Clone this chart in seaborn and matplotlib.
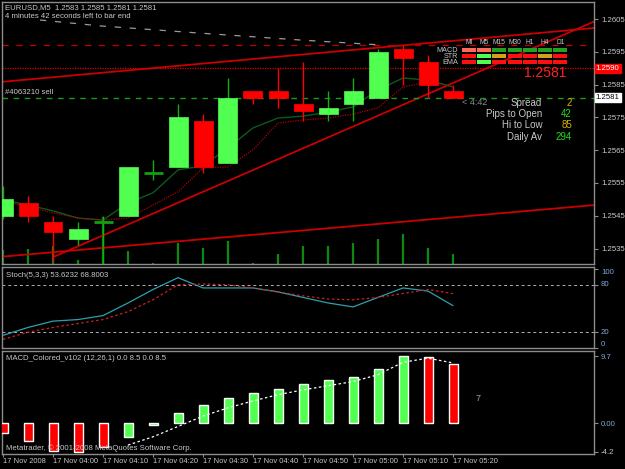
import numpy as np
import pandas as pd
import matplotlib
matplotlib.use("Agg")
import matplotlib.pyplot as plt
import seaborn as sns
from matplotlib.patches import Rectangle

# ---------------- data ----------------
times = ["03:50", "03:55", "04:00", "04:05", "04:10", "04:15", "04:20", "04:25", "04:30", "04:35",
         "04:40", "04:45", "04:50", "04:55", "05:00", "05:05", "05:10", "05:15", "05:20"]
opens  = [1.2545, 1.2549, 1.2543, 1.2538, 1.2543, 1.2545, 1.2558, 1.2560, 1.2574, 1.2561,
          1.2583, 1.2583, 1.2579, 1.2576, 1.2579, 1.2581, 1.2596, 1.2592, 1.2583]
highs  = [1.2554, 1.2551, 1.2545, 1.2543, 1.2545, 1.2560, 1.2562, 1.2579, 1.2576, 1.2587,
          1.2583, 1.2590, 1.2592, 1.2583, 1.2587, 1.2596, 1.2597, 1.2594, 1.2585]
lows   = [1.2544, 1.2543, 1.2531, 1.2536, 1.2530, 1.2545, 1.2556, 1.2560, 1.2558, 1.2561,
          1.2579, 1.2578, 1.2574, 1.2574, 1.2574, 1.2581, 1.2585, 1.2581, 1.2581]
closes = [1.2550, 1.2545, 1.2540, 1.2541, 1.2543, 1.2560, 1.2558, 1.2575, 1.2560, 1.2581,
          1.2581, 1.2581, 1.2577, 1.2578, 1.2583, 1.2595, 1.2593, 1.2585, 1.2581]
volumes = [14, 15, 18, 4, 47, 13, 1, 21, 16, 23, 1, 10, 18, 18, 21, 25, 30, 16, 10]
ma_fast = [1.25498, 1.25483, 1.25465, 1.25443, 1.25437, 1.25489, 1.25520, 1.25590, 1.25602, 1.25657,
           1.25718, 1.25748, 1.25754, 1.25766, 1.25782, 1.25834, 1.25870, 1.25864, 1.25843]
ma_slow = [1.25495, 1.25477, 1.25459, 1.25443, 1.25437, 1.25443, 1.25483, 1.25523, 1.25596, 1.25599,
           1.25651, 1.25733, 1.25742, 1.25748, 1.25760, 1.25779, 1.25843, 1.25858, 1.25843]
stoch_k = [16, 26, 34, 36, 41, 57, 74, 89, 76, 76, 76, 71, 64, 57, 52, 64, 76, 72, 53.6]
stoch_d = [11, 20, 26, 31, 36, 46, 61, 80, 81, 80, 76, 71, 66, 62, 61, 64, 69, 74, 68.8]
macd_hist = [-1.5, -2.6, -4.0, -4.2, -3.5, -2.0, -0.3, 1.5, 2.6, 3.6, 4.4, 5.0, 5.6, 6.2, 6.6, 7.8, 9.7, 9.5, 8.5]
macd_up = [False, False, False, False, False, True, True, True, True, True,
           True, True, True, True, True, True, True, False, False]
macd_signal = [np.nan, np.nan, np.nan, np.nan, np.nan, -3.2, -2.0, -0.5, 1.0, 2.2,
               3.2, 4.1, 4.8, 5.4, 6.0, 7.0, 8.8, 9.4, 8.7]
# trend lines: (bar index, price) pairs
trend_lower = ([-0.1, 23.7], [1.25325, 1.25483])
trend_rise = ([2.0, 23.7], [1.25324, 1.26044])
trend_upper = ([-0.1, 23.7], [1.25858, 1.26023])
timer_curve = ([1.48, 3.88, 7.88, 11.88, 15.08], [1.26047, 1.26029, 1.26007, 1.25986, 1.25971])
price_ticks = [1.2535, 1.2545, 1.2555, 1.2565, 1.2575, 1.2585, 1.2595, 1.2605]
ask_price = 1.2590
bid_price = 1.2581
tp_price = 1.2597
tf_labels = ["MI", "M5", "M15", "M30", "H1", "H4", "D1"]
grid_rows = ["MACD", "STR", "EMA"]
grid_colors = [
    ["#ff6a5a", "#ff6a5a", "#22a022", "#22a022", "#22a022", "#22a022", "#22a022"],
    ["#ff1010", "#50ff50", "#d4a018", "#ff1010", "#ff1010", "#d4a018", "#ff1010"],
    ["#ff1010", "#50ff50", "#ff1010", "#ff1010", "#ff1010", "#ff1010", "#ff1010"],
]
info_labels = ["Spread", "Pips to Open", "Hi to Low", "Daily Av"]
info_values = ["2", "42", "85", "294"]
info_colors = ["#d8b400", "#22dd22", "#d8b400", "#22dd22"]

# ---------------- style ----------------
sns.set_theme(style="dark")
plt.rcParams["font.family"] = ["Liberation Sans", "DejaVu Sans"]
W, H = 625, 469
fig = plt.figure(figsize=(W / 100, H / 100), dpi=100, facecolor="black")

GRAY = "#8c8c8c"
TXT = "#c8c8c8"
BULL = "#50ff50"
BEAR = "#ff0000"
FS = 5.6
PX = 1 / 32800.0  # price per pixel

def px_axes(x0, y0, x1, y1):
    return fig.add_axes([x0 / W, 1 - y1 / H, (x1 - x0) / W, (y1 - y0) / H])

X0, X1 = 2, 594
xmin = (X0 - 3) / 25.0
xmax = xmin + (X1 - X0) / 25.0

def style_ax(ax):
    ax.set_facecolor("black")
    for s in ax.spines.values():
        s.set_color(GRAY)
        s.set_linewidth(1.0)
    ax.set_xlim(xmin, xmax)
    ax.tick_params(axis="y", which="both", right=True, left=False, labelright=True, labelleft=False,
                   colors=GRAY, labelcolor=TXT, labelsize=FS, length=3, width=0.8, pad=2)
    ax.tick_params(axis="x", bottom=False, labelbottom=False)
    ax.grid(False)

ax_m = px_axes(X0, 2, X1, 264)
ax_s = px_axes(X0, 267, X1, 348)
ax_d = px_axes(X0, 351, X1, 454)
for a in (ax_m, ax_s, ax_d):
    style_ax(a)

idx = np.arange(len(times))
df = pd.DataFrame({"i": idx, "o": opens, "h": highs, "l": lows, "c": closes, "v": volumes,
                   "maf": ma_fast, "mas": ma_slow, "k": stoch_k, "d": stoch_d,
                   "hist": macd_hist, "sig": macd_signal})

# ---------------- main panel ----------------
pmin = 1.2605 - (264 - 19) * PX
pmax = 1.2605 + (19 - 2) * PX
ax_m.set_ylim(pmin, pmax)

# volume bars at the bottom of the panel
ax_m.vlines(df["i"], pmin, pmin + df["v"] * PX, color="#0c8a0c", lw=1.6, zorder=1)

# trend lines
for tl in (trend_lower, trend_rise, trend_upper):
    ax_m.plot(tl[0], tl[1], color="#c80000", lw=1.3, zorder=2)

# horizontal levels
ax_m.axhline(ask_price, color="#e00000", lw=0.9, ls=(0, (1, 1)), zorder=2)
ax_m.axhline(bid_price, color="#1a9a1a", lw=1.0, ls=(0, (4, 4)), zorder=2)
ax_m.axhline(tp_price, color="#c00000", lw=0.9, ls=(0, (5, 6)), zorder=2)
ax_m.plot(timer_curve[0], timer_curve[1], color="#9a9a9a", lw=0.9, ls=(0, (5, 7)), zorder=2)

# moving averages
sns.lineplot(data=df, x="i", y="maf", ax=ax_m, color="#0c5a1c", lw=1.0, zorder=4)
sns.lineplot(data=df, x="i", y="mas", ax=ax_m, color="#b00000", lw=0.9, ls=(0, (1, 1)), zorder=4)

# candles
bw = 0.76
for _, r in df.iterrows():
    up = r["c"] > r["o"]
    doji = abs(r["c"] - r["o"]) < 1e-9
    col = BULL if up else BEAR
    wcol = "#10b010" if (up or doji) else BEAR
    ax_m.vlines(r["i"], r["l"], r["h"], color=wcol, lw=1.0, zorder=5)
    if doji:
        ax_m.hlines(r["o"], r["i"] - bw / 2, r["i"] + bw / 2, color="#10a010", lw=2.0, zorder=6)
    else:
        lo, hi = min(r["o"], r["c"]), max(r["o"], r["c"])
        ax_m.add_patch(Rectangle((r["i"] - bw / 2, lo), bw, hi - lo, facecolor=col, edgecolor=col,
                                 lw=0.5, zorder=6))

ax_m.set_yticks(price_ticks)
ax_m.set_yticklabels([f"{p:.4f}" for p in price_ticks])
ax_m.set_xlim(xmin, xmax)
ax_m.set_xlabel(""); ax_m.set_ylabel("")

# price boxes on the axis
ax_m.text(1.003, (ask_price - pmin) / (pmax - pmin), f"{ask_price:.4f}", transform=ax_m.transAxes,
          ha="left", va="center", fontsize=FS, color="white",
          bbox=dict(boxstyle="square,pad=0.15", fc="#ff0000", ec="#ff0000"), clip_on=False, zorder=10)
ax_m.text(1.003, (bid_price - pmin) / (pmax - pmin), f"{bid_price:.4f}", transform=ax_m.transAxes,
          ha="left", va="center", fontsize=FS, color="black",
          bbox=dict(boxstyle="square,pad=0.15", fc="white", ec="white"), clip_on=False, zorder=10)

# header texts
fig.text(5 / W, 1 - 8 / H, "EURUSD,M5  1.2583 1.2585 1.2581 1.2581", color=TXT, fontsize=FS,
         ha="left", va="center")
fig.text(5 / W, 1 - 17 / H, "4 minutes 42 seconds left to bar end", color=TXT, fontsize=FS,
         ha="left", va="center")
fig.text(5 / W, 1 - 92 / H, "#4063210 sell", color=TXT, fontsize=FS, ha="left", va="center")
fig.text(545 / W, 1 - 73 / H, "1.2581", color="#ff2020", fontsize=10, ha="center", va="center")
fig.text(462 / W, 1 - 102 / H, "< 4:42", color="#8a8a8a", fontsize=6.5, ha="left", va="center")

# signal grid
col_x = [469 + 15.2 * j for j in range(7)]
row_y = [50, 56, 62]
for j, lab in enumerate(tf_labels):
    fig.text(col_x[j] / W, 1 - 42 / H, lab, color=TXT, fontsize=4.8, ha="center", va="center")
for i_r, lab in enumerate(grid_rows):
    fig.text(458 / W, 1 - row_y[i_r] / H, lab, color=TXT, fontsize=5.2, ha="right", va="center")
    for j in range(7):
        fig.patches.append(Rectangle(((col_x[j] - 7) / W, 1 - (row_y[i_r] + 2) / H), 14 / W, 4 / H,
                                     transform=fig.transFigure, facecolor=grid_colors[i_r][j],
                                     edgecolor="none", zorder=10))

# info panel
info_y = [103, 114, 125, 137]
for k in range(4):
    fig.text(542 / W, 1 - info_y[k] / H, info_labels[k], color=TXT, fontsize=7, ha="right", va="center")
    fig.text(572 / W, 1 - info_y[k] / H, info_values[k], color=info_colors[k], fontsize=7,
             ha="right", va="center")

# ---------------- stochastic ----------------
ax_s.set_ylim(80 - (348 - 285) / 0.8, 80 + (285 - 267) / 0.8)
ax_s.axhline(80, color="#b0b0b0", lw=0.7, ls=(0, (3, 3)))
ax_s.axhline(20, color="#b0b0b0", lw=0.7, ls=(0, (3, 3)))
sns.lineplot(data=df, x="i", y="k", ax=ax_s, color="#2f9fb0", lw=0.9)
sns.lineplot(data=df, x="i", y="d", ax=ax_s, color="#d02020", lw=0.9, ls=(0, (2, 2)))
ax_s.set_xlim(xmin, xmax)
ax_s.set_yticks([100, 80, 20, 0])
ax_s.set_yticklabels(["100", "80", "20", "0"])
for lbl, dy in zip(ax_s.get_yticklabels(), ["top", "center", "center", "bottom"]):
    lbl.set_va(dy)
    lbl.set_color("#7fa8d8")
ax_s.text(0.006, 0.90, "Stoch(5,3,3) 53.6232 68.8003", transform=ax_s.transAxes, color=TXT,
          fontsize=FS, ha="left", va="center")
ax_s.set_xlabel(""); ax_s.set_ylabel("")

# ---------------- MACD ----------------
ax_d.set_ylim((423 - 454) / 6.9, (423 - 351) / 6.9)
bar_cols = [BULL if u else BEAR for u in macd_up]
ax_d.bar(df["i"], df["hist"], width=0.36, color=bar_cols, zorder=3)
sns.lineplot(data=df, x="i", y="sig", ax=ax_d, color="white", lw=0.9, ls=(0, (2, 2)), zorder=4)
ax_d.set_xlim(xmin, xmax)
ax_d.set_yticks([9.7, 0.0, -4.2])
ax_d.set_yticklabels(["9.7", "0.00", "-4.2"])
for lbl in ax_d.get_yticklabels():
    lbl.set_color("#7fa8d8")
ax_d.get_yticklabels()[2].set_color(TXT)
ax_d.text(0.006, 0.93, "MACD_Colored_v102 (12,26,1) 0.0 8.5 0.0 8.5", transform=ax_d.transAxes,
          color=TXT, fontsize=FS, ha="left", va="center")
ax_d.text(0.006, 0.06, "Metatrader, \u00a9 2001-2008 MetaQuotes Software Corp.", transform=ax_d.transAxes,
          color=TXT, fontsize=FS, ha="left", va="center")
ax_d.text(19.0, 3.6, "7", color="#a0a0a0", fontsize=6.5, ha="center", va="center")
ax_d.set_xlabel(""); ax_d.set_ylabel("")

# time axis
tick_idx = idx[::2]
ax_d.set_xticks(tick_idx)
ax_d.set_xticklabels(["17 Nov 2008"] + [f"17 Nov {times[i]}" for i in tick_idx[1:]])
ax_d.tick_params(axis="x", bottom=True, labelbottom=True, colors=GRAY, labelcolor=TXT,
                 labelsize=5.4, length=2, width=0.8, pad=0.8)
for lbl in ax_d.get_xticklabels():
    lbl.set_ha("left")

fig.savefig("out.png", dpi=100, facecolor="black")
